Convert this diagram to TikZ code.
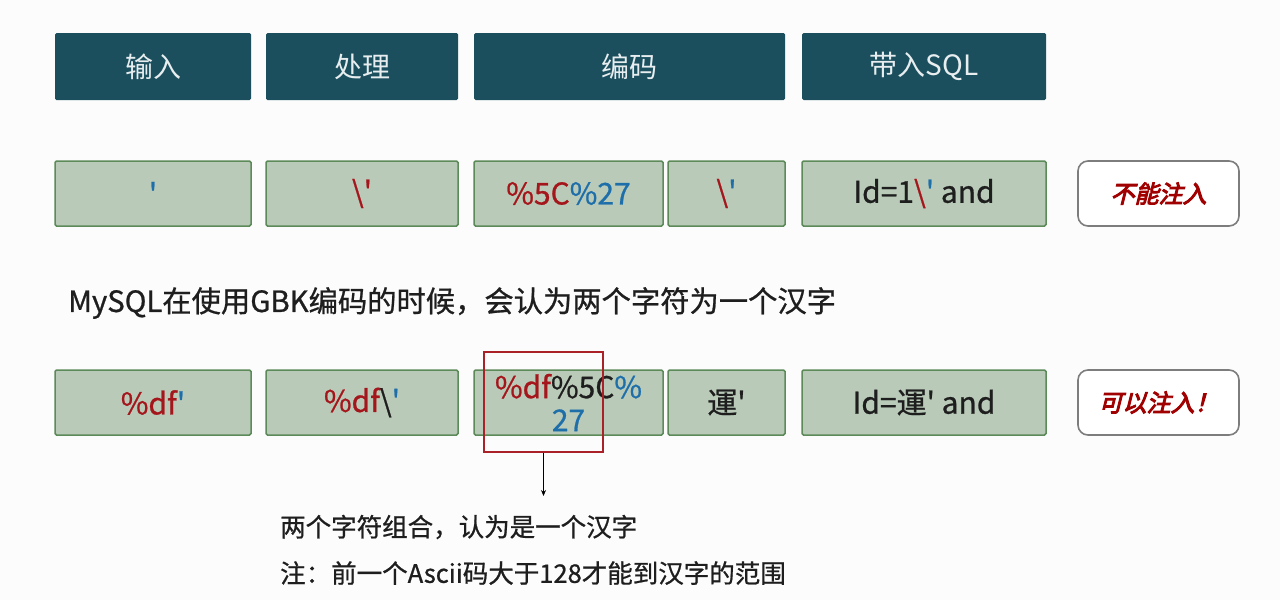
\documentclass[tikz,border=0pt]{standalone}
\usepackage{fontspec}
\setmainfont{Noto Sans CJK SC}[FakeBold=0.8]
\newfontfamily\headfont{Noto Sans CJK SC}
\newfontfamily\btnfont[FakeSlant=0.25,FakeBold=4]{Noto Sans CJK SC}
\usepackage{xcolor}
\usepackage{tikz}
\usetikzlibrary{arrows.meta}
\definecolor{headfill}{RGB}{27,79,94}
\definecolor{headtext}{RGB}{232,238,240}
\definecolor{cellfill}{RGB}{185,203,184}
\definecolor{celldraw}{RGB}{92,138,88}
\definecolor{codered}{RGB}{165,22,28}
\definecolor{codeblue}{RGB}{30,110,170}
\definecolor{btndraw}{RGB}{125,125,125}
\definecolor{btntext}{RGB}{160,0,0}
\definecolor{markred}{RGB}{170,34,40}
\definecolor{pagebg}{RGB}{252,252,252}
\definecolor{bodytext}{RGB}{30,30,30}
\newcommand{\redtxt}[1]{\textcolor{codered}{#1}}
\newcommand{\bluetxt}[1]{\textcolor{codeblue}{#1}}

\begin{document}
\begin{tikzpicture}[x=1pt, y=-1pt,
		head/.style={fill=headfill, text=headtext, rounded corners=1.5pt, minimum height=67pt, inner sep=0pt, font=\headfont\fontsize{28}{30}\selectfont},
		cell/.style={fill=cellfill, draw=celldraw, line width=1.5pt, rounded corners=1.5pt, minimum height=65pt, inner sep=0pt, text=bodytext, font=\fontsize{30}{33}\selectfont},
		btn/.style={fill=white, draw=btndraw, line width=1.6pt, rounded corners=10pt, minimum width=161pt, minimum height=65pt, text=btntext, font=\btnfont\fontsize{24}{26}\selectfont},
		note/.style={anchor=west, inner sep=0pt, text=bodytext}]
				\fill[pagebg] (0,0) rectangle (1280,600);
				\useasboundingbox (0,0) rectangle (1280,600);
				% header row
				\foreach \n/\x/\w/\t in {in/153/196/输入, proc/362/192/处理, enc/629.5/311/编码, sql/924/244/带入SQL} {
					\node[head, minimum width=\w pt] (h\n) at (\x,66.5) {\t};
				}
				% normal input
				\node[cell, minimum width=196pt] (a1) at (153,193.5) {\bluetxt{\textquotesingle}};
				\node[cell, minimum width=192pt] (a2) at (362,193.5) {\redtxt{\textbackslash\textquotesingle}};
				\node[cell, minimum width=189pt] (a3) at (568.5,193.5) {\redtxt{\%5C}\bluetxt{\%27}};
				\node[cell, minimum width=117pt] (a4) at (726.5,193.5) {\redtxt{\textbackslash}\bluetxt{\textquotesingle}};
				\node[cell, minimum width=244pt] (a5) at (924,193.5) {Id=1\redtxt{\textbackslash}\bluetxt{\textquotesingle} and};
				\node[btn] (a6) at (1158.5,193.5) {不能注入};
				\node[note, font=\fontsize{29.3}{31}\selectfont] (gbk) at (68,303) {MySQL在使用GBK编码的时候，会认为两个字符为一个汉字};
				% wide byte input
				\node[cell, minimum width=196pt] (b1) at (153,402.5) {\redtxt{\%df}\bluetxt{\textquotesingle}};
				\node[cell, minimum width=192pt] (b2) at (362,402.5) {\redtxt{\%df}\textbackslash\bluetxt{\textquotesingle}};
				\node[cell, minimum width=189pt, align=center] (b3) at (568.5,402.5) {\redtxt{\%df}\%5C\bluetxt{\%}\\\bluetxt{27}};
				\node[cell, minimum width=117pt] (b4) at (726.5,402.5) {運\textquotesingle};
				\node[cell, minimum width=244pt] (b5) at (924,402.5) {Id=運\textquotesingle{} and};
				\node[btn] (b6) at (1158.5,402.5) {可以注入！};
				\node[draw=markred, line width=2pt, minimum width=119pt, minimum height=100pt] (mark) at (543.5,402) {};
				\coordinate (tip) at (543.5,496);
				\draw[-{Stealth[length=6pt,width=5pt]}, line width=0.8pt] (mark.south) -- (tip);
				\node[note, font=\fontsize{25.5}{27}\selectfont] (n1) at (280,527) {两个字符组合，认为是一个汉字};
				\node[note, font=\fontsize{25.5}{27}\selectfont] (n2) at (280,573) {注：前一个Ascii码大于128才能到汉字的范围};

			\end{tikzpicture}
\end{document}
